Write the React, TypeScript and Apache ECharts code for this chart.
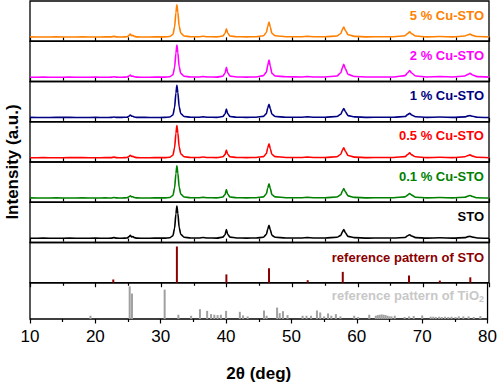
import React, { useEffect, useRef } from 'react';
import * as echarts from 'echarts';

// 2θ sampling positions (deg) shared by all measured patterns
const angles = [
  10, 12, 14, 16, 18, 20, 21.5, 22.4, 22.8, 23.2,
  24, 24.8, 25.1, 25.3, 25.5, 25.7, 25.9, 26.3, 27.5, 29,
  30.5, 31.3, 31.8, 32.05, 32.25, 32.4, 32.55, 32.75, 33.0, 33.5,
  34.5, 35.8, 36.4, 37.0, 38.5, 39.4, 39.75, 39.95, 40.15, 40.5,
  41.5, 43, 44.5, 45.6, 46.05, 46.25, 46.45, 46.65, 46.9, 47.4,
  49, 51.5, 52.3, 53.2, 55, 56.8, 57.4, 57.65, 57.85, 58.1,
  58.5, 59.5, 61.5, 63.5, 65.5, 67.2, 67.6, 67.9, 68.2, 68.8,
  70.5, 72.5, 74.5, 76.3, 76.8, 77.1, 77.5, 78.2, 80,
];

const cu5 = [
  1.5, 1, 1.5, 1, 1.5, 1, 1.5, 1.5, 3, 1.5,
  1, 2, 6, 10, 5, 6, 3, 1.5, 1, 1.5,
  1.5, 2.5, 9, 32, 76, 100, 78, 34, 13, 4,
  2, 2, 3.5, 2, 1.5, 4, 12, 26, 13, 4,
  2, 1.5, 2, 5, 15, 33, 47, 31, 12, 5,
  2, 2, 3, 2, 2, 4, 12, 25, 32, 21,
  8, 3, 1.5, 2, 2, 5, 12, 17, 11, 4,
  1.5, 2.5, 1.5, 4, 8, 10, 6, 2.5, 1,
];
const cu2 = [
  1, 1.5, 1, 1.5, 1, 1.5, 1, 1.5, 2.5, 1.5,
  1, 2, 5, 8, 4, 5, 2.5, 1.5, 1, 1.5,
  1.5, 2.5, 9, 31, 75, 100, 77, 33, 13, 4,
  2, 2, 3, 2, 1.5, 4.5, 14, 32, 15, 4.5,
  2, 1.5, 2, 6, 17, 37, 54, 35, 13, 5,
  2.5, 2, 3, 2, 2, 5, 15, 31, 41, 27,
  10, 3.5, 2, 2, 2, 6, 15, 22, 14, 5,
  2, 3, 2, 5, 10, 13, 8, 3, 1.5,
];
const cu1 = [
  1.5, 1, 1.5, 1.5, 1, 1.5, 1, 1.5, 2.5, 1.5,
  1.5, 2, 5, 9, 5, 5, 2.5, 1.5, 1.5, 1,
  1.5, 2.5, 9, 32, 76, 100, 78, 34, 13, 4,
  2, 2, 3, 2, 1.5, 4, 12, 27, 13, 4,
  2, 1.5, 2, 4.5, 13, 30, 42, 28, 11, 4,
  2, 2, 3, 2, 2, 4, 11, 22, 29, 19,
  7, 3, 1.5, 2, 2, 4, 10, 14, 9, 3.5,
  1.5, 2.5, 1.5, 3, 6, 7, 5, 2, 1,
];
const cu05 = [
  1, 1.5, 1, 1.5, 1.5, 1, 1.5, 1.5, 3, 1.5,
  1, 2, 5, 9, 5, 5.5, 3, 1.5, 1, 1.5,
  1.5, 2.5, 9, 32, 76, 100, 78, 34, 13, 4,
  2, 2, 3.5, 2, 1.5, 4, 11, 25, 12, 4,
  2, 1.5, 2, 4.5, 14, 31, 44, 29, 11, 4.5,
  2, 2, 3, 2, 2, 4, 12, 25, 32, 21,
  8, 3, 1.5, 2, 2, 4.5, 11, 16, 10, 4,
  1.5, 2.5, 1.5, 4, 8, 10, 6, 2.5, 1,
];
const cu01 = [
  1.5, 1, 1.5, 1, 1.5, 1, 1.5, 1, 2.5, 1.5,
  1, 2, 5, 8, 4.5, 5, 2.5, 1.5, 1, 1.5,
  1.5, 2.5, 9, 32, 76, 100, 78, 34, 13, 4,
  2, 2, 3, 2, 1.5, 4, 12, 27, 13, 4,
  2, 1.5, 2, 4.5, 14, 31, 45, 30, 11, 4.5,
  2, 2, 3, 2, 2, 4, 11, 23, 30, 20,
  7.5, 3, 1.5, 2, 2, 4.5, 10, 15, 10, 3.5,
  1.5, 2.5, 1.5, 3.5, 7, 9, 5.5, 2, 1,
];
const sto = [
  1, 1.5, 1, 1.5, 1, 1.5, 1, 1.5, 3, 1.5,
  1, 2, 6, 10, 5, 6, 3, 1.5, 1, 1.5,
  1.5, 2.5, 9, 32, 76, 100, 78, 34, 13, 4,
  2, 2, 3.5, 2, 1.5, 4.5, 12, 28, 13, 4.5,
  2, 1.5, 2, 4, 13, 29, 41, 27, 10, 4,
  2, 2, 3, 2, 2, 4, 10, 21, 28, 18,
  7, 3, 1.5, 2, 2, 3.5, 9, 12, 8, 3,
  1.5, 2.5, 1.5, 3, 6, 7, 4.5, 2, 1,
];

// Reference stick patterns
const stoRefPos = [22.7, 32.4, 39.95, 46.45, 52.35, 57.7, 67.8, 72.5, 77.15];
const stoRefInt = [9, 100, 23, 40, 7, 30, 20, 6, 15];

const tio2RefPos = [
  19.25, 25.25, 25.6, 30.6, 32.7, 34.65, 36.0, 37.1, 37.7, 38.2,
  38.7, 39.2, 40.0, 42.1, 42.6, 43.3, 45.8, 46.2, 47.8, 48.2,
  48.7, 49.4, 51.7, 52.3, 53.0, 53.9, 54.4, 55.0, 55.6, 56.1,
  56.8, 57.5, 59.6, 60.2, 61.9, 62.9, 63.2, 63.5, 63.8, 64.1,
  64.4, 64.7, 65.0, 65.3, 65.8, 67.3, 68.0, 68.7, 70.0, 71.3,
  71.7, 72.1, 72.6, 73.0, 73.5, 74.0, 74.5, 75.1, 75.6, 76.3,
  77.1, 77.9, 78.9,
];
const tio2RefInt = [
  10, 100, 78, 90, 13, 10, 30, 25, 15, 13,
  12, 13, 25, 22, 11, 8, 26, 10, 35, 18,
  24, 12, 10, 10, 10, 26, 20, 8, 17, 10,
  15, 8, 10, 6, 13, 10, 12, 13, 14, 13,
  12, 10, 8, 8, 10, 6, 8, 9, 11, 7,
  7, 6, 7, 6, 7, 6, 7, 6, 8, 8,
  8, 6, 9,
];

const xMin = 10;
const xMax = 80;
const xStep = 10;

const samples = [
  { label: '5 % Cu-STO', color: '#FF8000', values: cu5 },
  { label: '2 % Cu-STO', color: '#FF00FF', values: cu2 },
  { label: '1 % Cu-STO', color: '#000080', values: cu1 },
  { label: '0.5 % Cu-STO', color: '#FF0000', values: cu05 },
  { label: '0.1 % Cu-STO', color: '#008000', values: cu01 },
  { label: 'STO', color: '#000000', values: sto },
];

export default function App() {
  const ref = useRef<HTMLDivElement>(null);

  useEffect(() => {
    if (!ref.current) return;
    const chart = echarts.init(ref.current, undefined, { renderer: 'svg' });

    const left = 30;
    const right = 11;
    const top0 = 1;
    const panelH = 40.25;
    const nPanels = 8;
    const font = 'Arial, "Liberation Sans", sans-serif';

    const grids: any[] = [];
    const xAxes: any[] = [];
    const yAxes: any[] = [];
    for (let i = 0; i < nPanels; i++) {
      const isLast = i === nPanels - 1;
      grids.push({
        left,
        right,
        top: top0 + i * panelH,
        height: panelH,
        show: true,
        borderColor: '#000',
        borderWidth: 1.3,
        backgroundColor: 'transparent',
      });
      xAxes.push({
        type: 'value',
        gridIndex: i,
        min: xMin,
        max: xMax,
        interval: xStep,
        axisLine: { show: false },
        axisTick: { show: true, inside: false, length: 4.5, lineStyle: { color: '#000', width: 1.2 } },
        minorTick: { show: true, splitNumber: 2, length: 3, lineStyle: { color: '#000', width: 1.2 } },
        splitLine: { show: false },
        axisLabel: isLast
          ? { show: true, fontSize: 17, color: '#000', fontFamily: font, margin: 9 }
          : { show: false },
        name: isLast ? '2θ (deg)' : '',
        nameLocation: 'middle',
        nameGap: 46,
        nameTextStyle: { fontSize: 17, fontWeight: 'bold', color: '#000', fontFamily: font },
      });
      const isRef = i >= 6;
      yAxes.push({
        type: 'value',
        gridIndex: i,
        min: isRef ? 0 : -12,
        max: isRef ? 111 : 112,
        show: false,
      });
    }

    const series: any[] = samples.map((s, i) => ({
      type: 'line',
      xAxisIndex: i,
      yAxisIndex: i,
      data: angles.map((a, k) => [a, s.values[k]]),
      showSymbol: false,
      symbol: 'none',
      smooth: 0.25,
      smoothMonotone: 'x',
      lineStyle: { color: s.color, width: 1.6 },
      itemStyle: { color: s.color },
    }));
    series.push({
      type: 'bar',
      xAxisIndex: 6,
      yAxisIndex: 6,
      barWidth: 2,
      data: stoRefPos.map((p, k) => [p, stoRefInt[k]]),
      itemStyle: { color: '#8B0000' },
    });
    series.push({
      type: 'bar',
      xAxisIndex: 7,
      yAxisIndex: 7,
      barWidth: 2,
      data: tio2RefPos.map((p, k) => [p, tio2RefInt[k]]),
      itemStyle: { color: '#A0A0A0' },
    });

    const labelX = 484;
    const graphics: any[] = samples.map((s, i) => ({
      type: 'text',
      x: labelX,
      y: top0 + i * panelH + 14,
      style: {
        text: s.label,
        fill: s.color,
        font: `bold 13px ${font}`,
        align: 'right',
        verticalAlign: 'middle',
      },
    }));
    graphics.push({
      type: 'text',
      x: labelX,
      y: top0 + 6 * panelH + 14.5,
      style: {
        text: 'reference pattern of STO',
        fill: '#8B0000',
        font: `bold 13px ${font}`,
        align: 'right',
        verticalAlign: 'middle',
      },
    });
    graphics.push({
      type: 'text',
      x: labelX,
      y: top0 + 7 * panelH + 13,
      style: {
        text: '{a|reference pattern of TiO}{b|2}',
        align: 'right',
        verticalAlign: 'middle',
        rich: {
          a: { fill: '#C8C8C8', fontSize: 13, fontWeight: 'bold', fontFamily: font },
          b: { fill: '#C8C8C8', fontSize: 9, fontWeight: 'bold', fontFamily: font, padding: [7, 0, 0, 0] },
        },
      },
    });
    graphics.push({
      type: 'text',
      x: 12,
      y: top0 + (nPanels * panelH) / 2,
      rotation: Math.PI / 2,
      style: {
        text: 'Intensity (a.u.)',
        fill: '#000',
        font: `bold 17px ${font}`,
        align: 'center',
        verticalAlign: 'middle',
      },
    });

    chart.setOption({
      animation: false,
      backgroundColor: '#fff',
      grid: grids,
      xAxis: xAxes,
      yAxis: yAxes,
      series,
      graphic: graphics,
    });

    return () => chart.dispose();
  }, []);

  return (
    <div
      ref={ref}
      style={{ position: 'absolute', left: 0, top: 0, width: 500, height: 383 }}
    />
  );
}
